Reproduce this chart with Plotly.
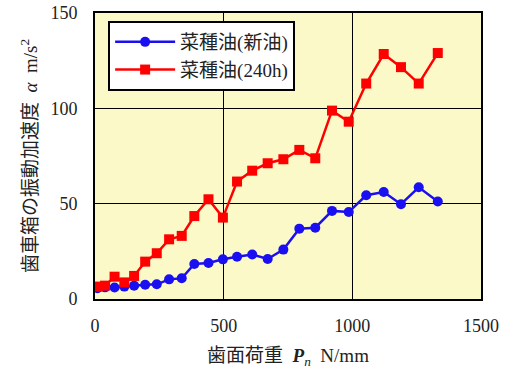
import plotly.graph_objects as go

load = [10, 39, 76, 114, 152, 195, 240, 288, 337, 386, 441, 497, 552,
        611, 671, 732, 794, 856, 921, 986, 1054, 1122, 1189, 1258, 1332]
new_oil = [5.6, 6.1, 6.0, 6.5, 7.0, 7.5, 7.7, 10.3, 10.9, 18.4, 18.9, 20.8, 22.2,
           23.3, 21.0, 25.9, 36.9, 37.4, 46.2, 45.6, 54.4, 56.1, 49.7, 58.6, 51.1]
used_oil = [6.5, 7.0, 11.7, 8.7, 12.1, 19.6, 24.0, 31.3, 33.1, 43.5, 52.3, 42.7, 61.6,
            67.3, 71.2, 73.3, 78.2, 73.8, 98.8, 93.0, 113.0, 128.5, 121.6, 113.0, 129.0]
names = ["菜種油(新油)", "菜種油(240h)"]
xticks = [0, 500, 1000, 1500]
yticks = [0, 50, 100, 150]

FONT = "'Liberation Serif', 'Noto Sans CJK JP', serif"

fig = go.Figure()
fig.add_trace(go.Scatter(x=load, y=new_oil, name=names[0], mode="lines+markers",
                         line=dict(color="#1a0ff0", width=2.5),
                         marker=dict(symbol="circle", size=10, color="#1a0ff0")))
fig.add_trace(go.Scatter(x=load, y=used_oil, name=names[1], mode="lines+markers",
                         line=dict(color="#ff0000", width=2.5),
                         marker=dict(symbol="square", size=10, color="#ff0000")))

axis_common = dict(showline=True, linecolor="black", linewidth=2, mirror=True,
                   showgrid=True, gridcolor="black", gridwidth=1, zeroline=False,
                   automargin=False, ticks="", ticklabeloverflow="allow",
                   tickfont=dict(family=FONT, size=18, color="#222"))
fig.update_xaxes(range=[0, 1500], tickvals=xticks, ticklabelstandoff=9, **axis_common,
                 title=dict(text="歯面荷重  <b><i>P</i></b><sub><i>n</i></sub>  N/mm",
                            font=dict(family=FONT, size=19, color="#222")))
fig.update_yaxes(range=[0, 150], tickvals=yticks, ticklabelstandoff=12, **axis_common,
                 title=dict(text="歯車箱の振動加速度  <i>α</i>  m/s<sup>2</sup>",
                            font=dict(family=FONT, size=19, color="#222"), standoff=8))

fig.update_layout(
    width=505, height=369,
    margin=dict(l=95, r=24, t=13, b=70, autoexpand=False),
    paper_bgcolor="white", plot_bgcolor="#fbf9c8",
    showlegend=True,
    legend=dict(x=0.034, y=0.972, xanchor="left", yanchor="top",
                bgcolor="white", bordercolor="black", borderwidth=2,
                font=dict(family=FONT, size=19, color="#222"),
                itemwidth=60, tracegroupgap=2, entrywidth=158),
)
# remove the browser's default 8px body margin so the figure fills the window
fig.write_html("out.html", config={"displayModeBar": False},
               post_script="document.body.style.margin='0';")
